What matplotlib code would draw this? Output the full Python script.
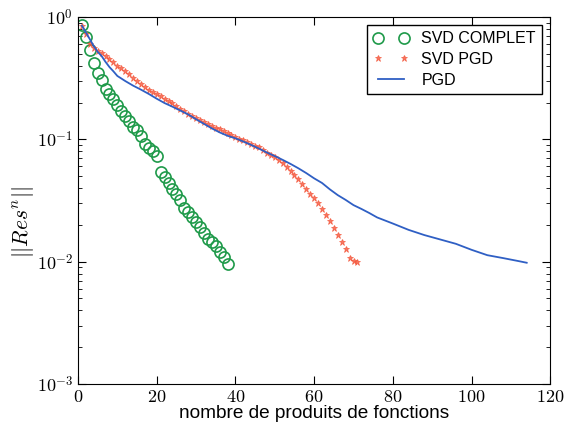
import matplotlib
matplotlib.use("Agg")
import matplotlib.pyplot as plt

plt.rcParams['mathtext.fontset'] = 'cm'

svd_complet_x = list(range(1, 39))
svd_complet_y = [0.86, 0.69, 0.54, 0.42, 0.35, 0.305, 0.26, 0.235, 0.215, 0.19,
                 0.17, 0.155, 0.14, 0.127, 0.119, 0.107, 0.092, 0.085, 0.08, 0.073,
                 0.054, 0.049, 0.044, 0.039, 0.036, 0.032, 0.0275, 0.0255, 0.0232, 0.0211,
                 0.0192, 0.0172, 0.0153, 0.0145, 0.0134, 0.012, 0.0109, 0.0096]

svd_pgd_x = list(range(1, 72))
svd_pgd_y = [0.85, 0.72, 0.60, 0.56, 0.53, 0.51, 0.48, 0.45, 0.43, 0.40,
             0.38, 0.36, 0.34, 0.32, 0.30, 0.285, 0.27, 0.255, 0.245, 0.235,
             0.225, 0.215, 0.207, 0.198, 0.188, 0.178, 0.169, 0.162, 0.155, 0.149,
             0.144, 0.139, 0.134, 0.129, 0.125, 0.121, 0.116, 0.112, 0.108, 0.105,
             0.101, 0.098, 0.095, 0.092, 0.089, 0.086, 0.082, 0.078, 0.075, 0.072,
             0.068, 0.064, 0.059, 0.055, 0.051, 0.047, 0.043, 0.039, 0.036, 0.033,
             0.030, 0.027, 0.024, 0.0215, 0.019, 0.0165, 0.0145, 0.0128, 0.0108, 0.0102,
             0.0100]

pgd_x = [1, 2, 3, 4, 5, 6, 7, 8, 9, 10, 12, 14, 16, 18, 20, 22, 24, 26, 28, 30,
         32, 34, 36, 38, 40, 42, 44, 46, 48, 50, 52, 54, 56, 58, 60, 62, 64, 66, 68, 70,
         72, 74, 76, 80, 84, 88, 92, 96, 100, 104, 108, 112, 114]
pgd_y = [0.85, 0.75, 0.66, 0.58, 0.52, 0.48, 0.43, 0.39, 0.36, 0.33, 0.30, 0.275,
         0.255, 0.235, 0.215, 0.198, 0.185, 0.172, 0.16, 0.146, 0.134, 0.123, 0.114,
         0.107, 0.102, 0.096, 0.09, 0.084, 0.078, 0.073, 0.068, 0.063, 0.058, 0.053,
         0.048, 0.044, 0.039, 0.035, 0.032, 0.029, 0.027, 0.025, 0.023, 0.0205, 0.0182,
         0.0165, 0.0152, 0.014, 0.0125, 0.0113, 0.0107, 0.0101, 0.0098]

xticks = [0, 20, 40, 60, 80, 100, 120]

fig = plt.figure(figsize=(5.65, 4.26), dpi=100)
ax = fig.add_axes([0.138, 0.0986, 0.836, 0.8614])

ax.plot(svd_complet_x, svd_complet_y, linestyle='none', marker='o', markersize=8,
        markerfacecolor='none', markeredgecolor='#1f9a4a', markeredgewidth=1.2,
        label='SVD COMPLET')
ax.plot(svd_pgd_x, svd_pgd_y, linestyle='none', marker='*', markersize=5,
        color='#f4553a', markeredgewidth=0.6, alpha=0.8, label='SVD PGD')
ax.plot(pgd_x, pgd_y, color='#2f5fc4', linewidth=1.3, label='PGD')

ax.set_yscale('log')
ax.set_xlim(0, 120)
ax.set_ylim(1e-3, 1)
ax.set_xticks(xticks)
ax.set_xticklabels([f'${t}$' for t in xticks])
ax.set_yticks([1e-3, 1e-2, 1e-1, 1])
ax.set_yticklabels([r'$10^{-3}$', r'$10^{-2}$', r'$10^{-1}$', r'$10^{0}$'])
ax.tick_params(axis='both', which='both', direction='in', top=True, right=True,
               labelsize=13)
ax.tick_params(which='major', length=6)
ax.tick_params(which='minor', length=3)
ax.tick_params(axis='x', pad=3)

ax.set_xlabel('nombre de produits de fonctions', family='Liberation Sans',
              fontsize=13.7, labelpad=-1)
ax.set_ylabel(r'$||Res^n||$', fontsize=15.5)
ax.yaxis.set_label_coords(-0.088, 0.44)

leg = ax.legend(loc='upper right', numpoints=2, fancybox=False, framealpha=1,
                edgecolor='black', prop={'family': 'Liberation Sans', 'size': 11.5},
                borderaxespad=0.5, handlelength=2.2, labelspacing=0.35)
leg.get_frame().set_linewidth(1.0)

fig.savefig('out.png', dpi=100)
